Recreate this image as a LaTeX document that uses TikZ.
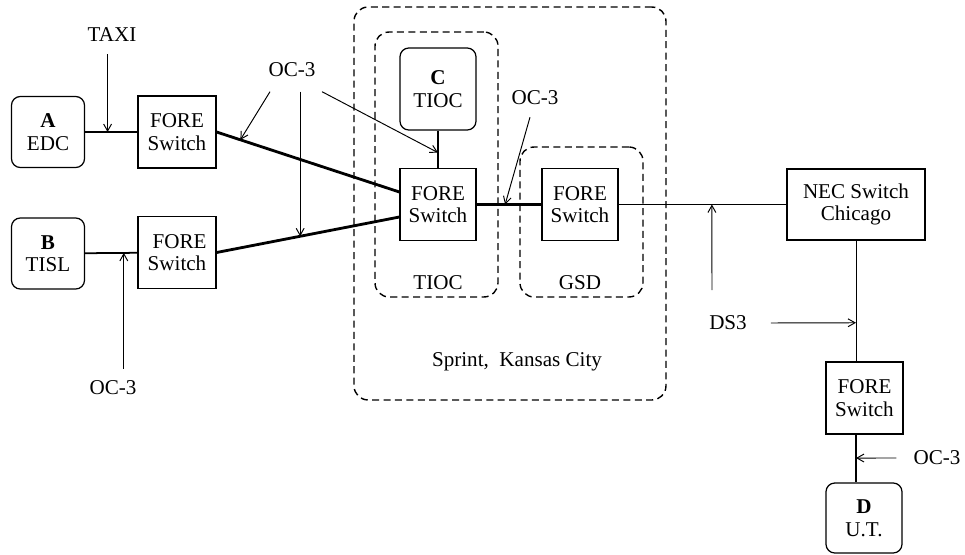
\documentclass[tikz,border=0pt]{standalone}
\usepackage{fontspec}
\setmainfont{Liberation Serif}
\usetikzlibrary{arrows.meta, positioning, calc}

\begin{document}
\begin{tikzpicture}[
  x=0.02cm, y=-0.02cm,
  font=\fontsize{12}{12.8}\selectfont,
  >={Straight Barb[length=4pt, width=4.5pt]},
  box/.style={draw, line width=0.7pt, align=center, inner sep=2pt},
  sw/.style={box, minimum width=1.56cm, minimum height=1.44cm},
  site/.style={box, rounded corners=5pt, minimum width=1.46cm, minimum height=1.42cm},
  region/.style={
    draw, line width=0.8pt, rounded corners=8pt, dash pattern=on 4pt off 2.5pt
  },
  link/.style={line width=0.5pt},
  mid/.style={line width=1pt},
  fat/.style={line width=1.6pt},
  arr/.style={->, line width=0.55pt},
  lab/.style={inner sep=1pt}
]
  \useasboundingbox (0,0) rectangle (965,555);

  % dashed areas
  \node[region, minimum width=6.24cm, minimum height=7.86cm] (sprint) at (510,203.5) {};
  \node[region, minimum width=2.46cm, minimum height=5.3cm] (tiocR) at (436.5,164.5) {};
  \node[region, minimum width=2.46cm, minimum height=3.0cm] (gsdR) at (581.5,222) {};
  \node[lab] (tiocL) at (438,283) {TIOC};
  \node[lab] (gsdL) at (580,283) {GSD};
  \node[lab] (sprintL) at (517,362) {Sprint,\ \ Kansas City};

  % sites and switches
  \node[site] (a) at (48,132) {\textbf{A}\\EDC};
  \node[sw] (fore1) at (177,132) {FORE\\Switch};
  \node[site] (b) at (48,253.5) {\textbf{B}\\TISL};
  \node[sw] (fore2) at (177,252.5) {\ FORE\\Switch};
  \node[site, minimum width=1.52cm, minimum height=1.64cm] (c) at (438,89) {\textbf{C}\\TIOC};
  \node[sw, minimum width=1.52cm] (core) at (438,204.5) {FORE\\Switch};
  \node[sw, minimum width=1.52cm] (gsd) at (580,204.5) {FORE\\Switch};
  \node[box, minimum width=2.76cm, minimum height=1.42cm] (nec) at (856,204.5)
    {NEC Switch\\Chicago};
  \node[sw, minimum width=1.54cm] (fore4) at (864.5,398) {FORE\\Switch};
  \node[site, minimum width=1.52cm, minimum height=1.4cm] (d) at (864,518) {\textbf{D}\\U.T.};

  % labels
  \node[lab] (taxi) at (112,35) {TAXI};
  \node[lab] (oc3top) at (292,70) {OC-3};
  \node[lab] (oc3b) at (113,388) {OC-3};
  \node[lab] (oc3core) at (535,98) {OC-3};
  \node[lab] (ds3) at (728,323) {DS3};
  \node[lab] (oc3d) at (937,458) {OC-3};

  % links
  \draw[fat] (a) -- coordinate[pos=0.43] (hitTaxi) (fore1);
  \draw[mid] (b) -- coordinate[pos=0.74] (hitB) (fore2);
  \draw[fat] (fore1.east) -- coordinate[pos=0.13] (hit1)
    ([yshift=0.25cm]core.west);
  \draw[fat] (fore2.east) -- coordinate[pos=0.457] (hit2)
    ([yshift=-0.25cm]core.west);
  \draw[mid] (c) -- coordinate[pos=0.59] (hitC) (core);
  \draw[fat] (core) -- coordinate[pos=0.44] (hitCore) (gsd);
  \draw[link] (gsd) -- coordinate[pos=0.556] (hitDs3a) (nec);
  \draw[link] (nec.south) -- coordinate[pos=0.68] (hitDs3b)
    (nec.south |- fore4.north);
  \draw[fat] (fore4.south -| nec.south) -- coordinate[pos=0.49] (hitD)
    (d.north -| nec.south);

  % pointers
  \coordinate (ds3tail) at (712,290);
  \draw[arr] ([yshift=-0.2cm]taxi.south -| hitTaxi) -- (hitTaxi);
  \draw[arr] ([xshift=-0.44cm, yshift=-0.25cm]oc3top.south) -- (hit1);
  \draw[arr] ([yshift=-0.25cm]oc3top.south -| hit2) -- (hit2);
  \draw[arr] ([xshift=0.6cm, yshift=-0.25cm]oc3top.south) -- (hitC);
  \draw[arr] ([yshift=0.2cm]oc3b.north -| hitB) -- (hitB);
  \draw[arr] ([xshift=-0.1cm, yshift=-0.2cm]oc3core.south) -- (hitCore);
  \draw[arr] (ds3tail) -- (hitDs3a);
  \draw[arr] ([xshift=0.44cm]ds3.east) -- (hitDs3b);
  \draw[arr] ([xshift=-0.3cm]oc3d.west) -- (hitD);
\end{tikzpicture}
\end{document}
